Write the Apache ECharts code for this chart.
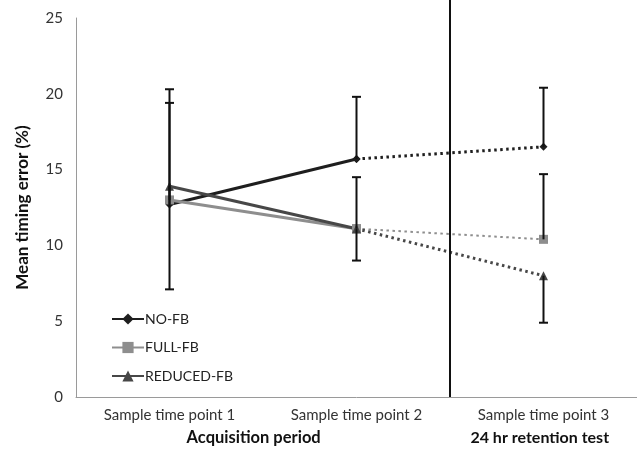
<!DOCTYPE html>
<html><head><meta charset="utf-8">
<script src="https://cdn.jsdelivr.net/npm/echarts@6/dist/echarts.min.js"></script>
<style>html,body{margin:0;padding:0;background:#fff}#c{width:637px;height:459px}</style>
</head><body><div id="c"></div>
<script>
const categories = ['Sample time point 1', 'Sample time point 2', 'Sample time point 3'];
const groupLabels = ['Acquisition period', '24 hr retention test'];
const noFb = [12.7, 15.7, 16.5];
const fullFb = [13.0, 11.1, 10.4];
const reducedFb = [13.9, 11.1, 8.0];
// error bar end values (one-sided bars)
const noFbErr = [20.3, 19.8, 20.4];
const fullFbErr = [19.4, 14.5, 14.7];
const reducedFbErr = [7.1, 9.0, 4.9];
const yMin = 0, yMax = 25, yStep = 5;
const dividerAt = 2; // boundary between acquisition and retention (band index)

const FONT = 'Lato';
const chart = echarts.init(document.getElementById('c'));

function solidPart(a) { return [a[0], a[1], null]; }
function dotPart(a) { return [null, a[1], a[2]]; }

function errData(vals, ends) {
  return vals.map((v, i) => [i, v, ends[i]]);
}
function errSeries(name, vals, ends) {
  return {
    type: 'custom', name: name + '-err', xAxisIndex: 0, yAxisIndex: 0, z: 5,
    data: errData(vals, ends),
    renderItem: function (params, api) {
      const p0 = api.coord([api.value(0), api.value(1)]);
      const p1 = api.coord([api.value(0), api.value(2)]);
      const hw = 4.5;
      return {
        type: 'group',
        children: [
          { type: 'line', shape: { x1: p0[0], y1: p0[1], x2: p1[0], y2: p1[1] }, style: { stroke: '#111', lineWidth: 2 } },
          { type: 'line', shape: { x1: p1[0] - hw, y1: p1[1], x2: p1[0] + hw, y2: p1[1] }, style: { stroke: '#111', lineWidth: 2 } }
        ]
      };
    }
  };
}

const styles = {
  'NO-FB': { color: '#1e1e1e', symbol: 'diamond', size: 8, width: 3, dotWidth: 3 },
  'FULL-FB': { color: '#8e8e8e', symbol: 'rect', size: 9, width: 3, dotWidth: 2 },
  'REDUCED-FB': { color: '#474747', symbol: 'triangle', size: 9, width: 3, dotWidth: 3 }
};
const data = { 'NO-FB': noFb, 'FULL-FB': fullFb, 'REDUCED-FB': reducedFb };

const series = [];
Object.keys(data).forEach(name => {
  const s = styles[name];
  series.push({
    type: 'line', name: name, data: solidPart(data[name]), symbol: s.symbol, symbolSize: s.size,
    showAllSymbol: true, connectNulls: false, z: 4,
    itemStyle: { color: s.color }, lineStyle: { color: s.color, width: s.width }
  });
  series.push({
    type: 'line', name: name + ' ', data: dotPart(data[name]), symbol: s.symbol, symbolSize: s.size,
    showAllSymbol: true, z: 3,
    itemStyle: { color: s.color }, lineStyle: { color: s.color, width: s.dotWidth, type: [2.5, 3.5] }
  });
});
series.push(errSeries('NO-FB', noFb, noFbErr));
series.push(errSeries('FULL-FB', fullFb, fullFbErr));
series.push(errSeries('REDUCED-FB', reducedFb, reducedFbErr));

chart.setOption({
  animation: false,
  backgroundColor: '#fff',
  textStyle: { fontFamily: FONT },
  grid: { left: 76, right: 0, top: 18, bottom: 62 },
  legend: {
    data: ['NO-FB', 'FULL-FB', 'REDUCED-FB'],
    orient: 'vertical', left: 106, top: 307, itemWidth: 32, itemHeight: 14, itemGap: 14.5,
    textStyle: { fontFamily: FONT, fontSize: 14, color: '#222', padding: [0, 0, 0, -4] }
  },
  xAxis: [{
    type: 'category', data: categories, boundaryGap: true,
    axisLine: { lineStyle: { color: '#9a9a9a', width: 1 } },
    axisTick: { alignWithLabel: true, length: 4, lineStyle: { color: '#9a9a9a' } },
    axisLabel: { fontFamily: FONT, fontSize: 15, color: '#333', margin: 11 }
  }, {
    type: 'value', min: 0, max: 3, show: false
  }],
  yAxis: {
    type: 'value', min: yMin, max: yMax, interval: yStep,
    name: 'Mean timing error (%)', nameLocation: 'middle', nameGap: 45,
    nameTextStyle: { fontFamily: FONT, fontSize: 17, fontWeight: 'bold', color: '#111' },
    axisLine: { show: true, lineStyle: { color: '#9a9a9a', width: 1 } },
    axisTick: { show: false },
    splitLine: { show: false },
    axisLabel: { fontFamily: FONT, fontSize: 15, color: '#333', margin: 13 }
  },
  series: series
});

// divider line and group labels
const xDiv = chart.convertToPixel({ xAxisIndex: 1 }, dividerAt);
const yZero = chart.convertToPixel({ yAxisIndex: 0 }, 0);
const acqX = chart.convertToPixel({ xAxisIndex: 1 }, 0.95);
const retX = chart.convertToPixel({ xAxisIndex: 1 }, 2.48);
chart.setOption({
  graphic: [
    { type: 'line', shape: { x1: xDiv, y1: 0, x2: xDiv, y2: yZero }, style: { stroke: '#111', lineWidth: 2 }, z: 10 },
    { type: 'text', x: acqX, y: yZero + 41, style: { text: groupLabels[0], fontFamily: FONT, fontSize: 16.5, fontWeight: 'bold', fill: '#111', align: 'center', verticalAlign: 'middle' } },
    { type: 'text', x: retX, y: yZero + 41, style: { text: groupLabels[1], fontFamily: FONT, fontSize: 16, fontWeight: 'bold', fill: '#111', align: 'center', verticalAlign: 'middle' } }
  ]
});
</script></body></html>
